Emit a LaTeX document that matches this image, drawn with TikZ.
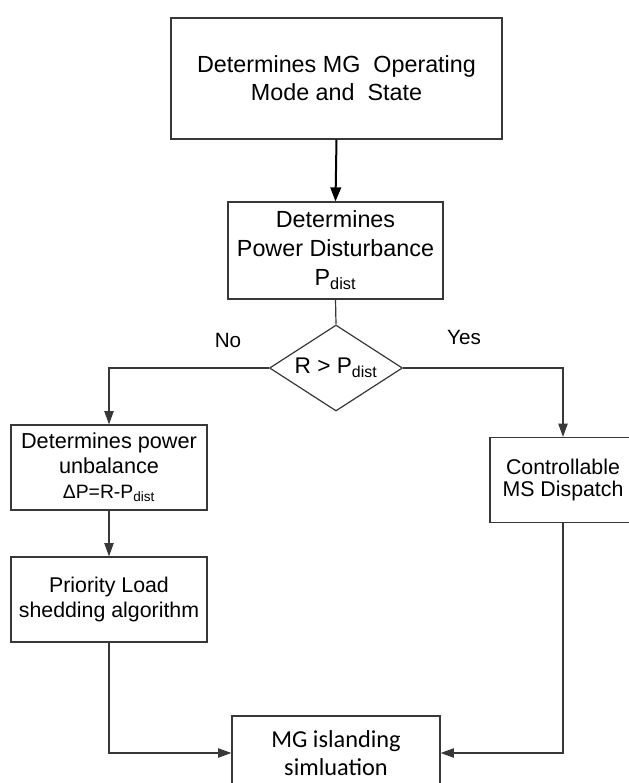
\documentclass[tikz,border=0pt]{standalone}
\usepackage{fontspec}
\setmainfont{Liberation Sans}
\newfontfamily\calfont{Carlito}
\usetikzlibrary{shapes.geometric,arrows.meta}
\definecolor{linegray}{gray}{0.22}
\begin{document}
\begin{tikzpicture}[x=0.75pt,y=-0.75pt,
  box/.style={draw=linegray,line width=0.9pt,inner sep=0pt,align=center,text=black},
  conn/.style={draw=linegray,line width=0.9pt},
  arr/.style={conn,-{Triangle[length=10pt,width=7pt]}},
  tarr/.style={draw=black,line width=1.5pt,-{Triangle[length=10.5pt,width=8pt]}},
  lbl/.style={inner sep=0pt,font=\fontsize{15.5}{18}\selectfont}]
\useasboundingbox (0,0) rectangle (629,783);
\fill[white] (0,0) rectangle (629,783);

\node[box,minimum width=248.25pt,minimum height=90.75pt,
  font=\fontsize{17.5}{21}\selectfont] (b1) at (336.5,78.5)
  {Determines MG\ \ Operating\\Mode and\ \ State};
\node[box,minimum width=161.25pt,minimum height=72.75pt,
  font=\fontsize{17.5}{21.75}\selectfont] (b2) at (335.5,250.5)
  {Determines\\Power Disturbance\\P\textsubscript{dist}};
\node[draw=linegray,line width=0.9pt,diamond,shape aspect=1.55,inner sep=0pt,
  minimum width=99.75pt,minimum height=64.5pt,
  font=\fontsize{17}{20}\selectfont] (d) at (336,368) {R > P\textsubscript{dist}};
\node[box,minimum width=147pt,minimum height=63.75pt,
  font=\fontsize{16.25}{18.75}\selectfont] (b3) at (109,467.5)
  {Determines power\\unbalance\\{\fontsize{14.5}{15}\selectfont ΔP=R-P\textsubscript{dist}}};
\node[box,minimum width=109.5pt,minimum height=63.75pt,
  font=\fontsize{16}{16.5}\selectfont] (b4) at (563,480)
  {Controllable\\MS Dispatch};
\node[box,minimum width=147pt,minimum height=63.75pt,
  font=\fontsize{16}{18.75}\selectfont] (b5) at (109,599.5)
  {Priority Load\\shedding algorithm};
\node[box,minimum width=156pt,minimum height=55.5pt,
  font=\calfont\fontsize{18.25}{21}\selectfont] (b6) at (336,753)
  {MG islanding\\simluation};

\node[lbl] (no) at (228,340) {No};
\node[lbl] (yes) at (464,337) {Yes};

\draw[tarr] (b1.south) -- (b2.north);
\draw[conn] (b2.south) -- (d.north);
\draw[arr] (d.west) -| (b3.north);
\draw[arr] (d.east) -| (b4.north);
\draw[arr] (b3.south) -- (b5.north);
\draw[arr] (b5.south) |- (b6.west);
\draw[arr] (b4.south) |- (b6.east);
\end{tikzpicture}
\end{document}
